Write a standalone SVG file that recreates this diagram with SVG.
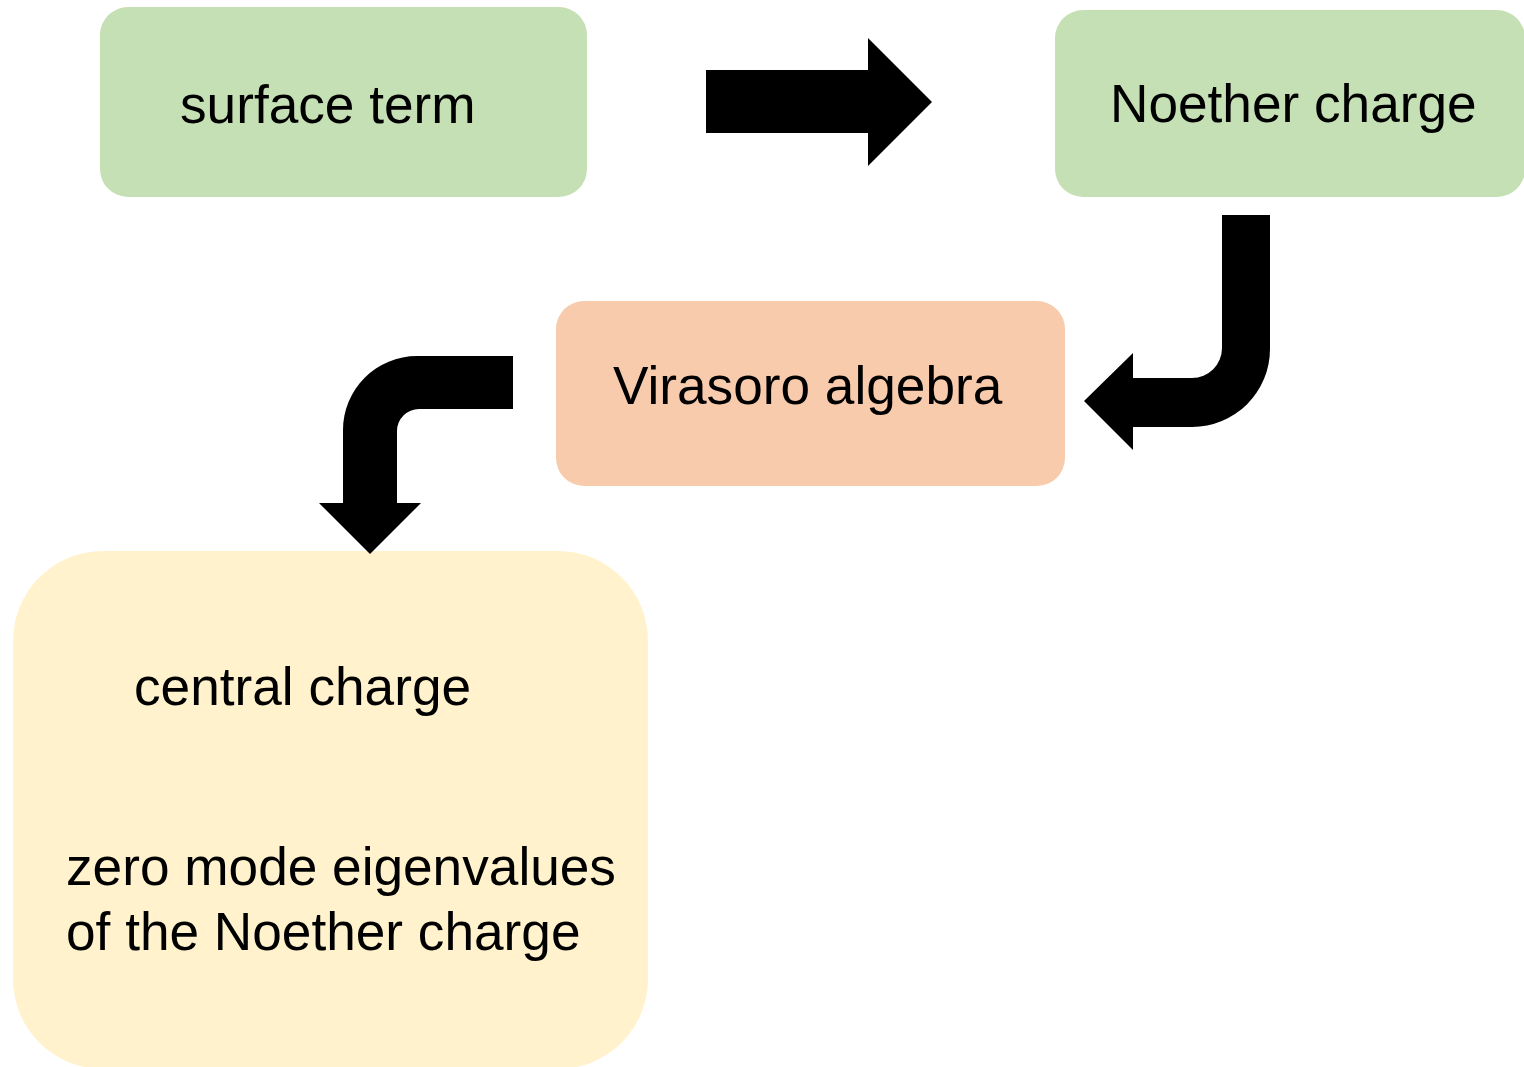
<svg xmlns="http://www.w3.org/2000/svg" width="1524" height="1067" viewBox="0 0 1524 1067">
<style>
.t{font-family:"Liberation Sans",Arial,sans-serif;font-size:53.2px;fill:#000}
.arr{fill:#000}
</style>
<rect width="1524" height="1067" fill="#fff"/>
<g id="surface-term">
<rect x="100" y="7" width="487" height="190" rx="28" fill="#c5e0b4"/>
<text class="t" x="180" y="123">surface term</text>
</g>
<g id="noether-charge">
<rect x="1055" y="10" width="470" height="187" rx="28" fill="#c5e0b4"/>
<text class="t" x="1110" y="122">Noether charge</text>
</g>
<g id="virasoro-algebra">
<rect x="556" y="301" width="509" height="185" rx="28" fill="#f8cbad"/>
<text class="t" x="613" y="404">Virasoro algebra</text>
</g>
<g id="central-charge">
<rect x="13" y="551" width="635" height="518" rx="90" fill="#fff2cc"/>
<text class="t" x="134" y="705">central charge</text>
<text class="t" x="66" y="885">zero mode eigenvalues</text>
<text class="t" x="66" y="950">of the Noether charge</text>
</g>
<g id="connectors">
<path class="arr" d="M706,70 H868 V38 L932,102 L868,166 V133 H706 Z"/>
<path class="arr" d="M1222,215 H1270 V349 A78,78 0 0 1 1192,427 H1133 V450 L1084,401 L1133,353 V378 H1192 A30,30 0 0 0 1222,348 Z"/>
<path class="arr" d="M513,356 V409 H419 A22,22 0 0 0 397,431 V503 H421 L370,554 L319,503 H343 V430 A74,74 0 0 1 417,356 Z"/>
</g>
</svg>
